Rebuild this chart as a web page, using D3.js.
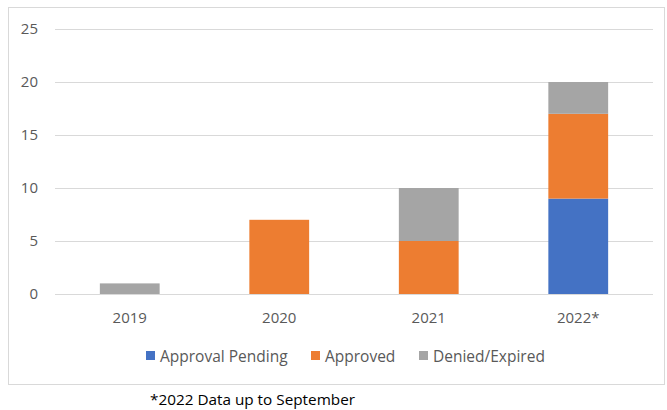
<!DOCTYPE html>
<html>
<head>
<meta charset="utf-8">
<script src="https://cdn.jsdelivr.net/npm/d3@7"></script>
<style>
  body { margin: 0; background: #fff; }
  text { font-family: "Open Sans", sans-serif; }
</style>
</head>
<body>
<svg id="chart" width="667" height="410"></svg>
<script>
const years = ['2019', '2020', '2021', '2022*'];
const seriesNames = ['Approval Pending', 'Approved', 'Denied/Expired'];
const pending = [0, 0, 0, 9];
const approved = [0, 7, 5, 8];
const denied = [1, 0, 5, 3];
const yTicks = [0, 5, 10, 15, 20, 25];
const colors = ['#4472C4', '#ED7D31', '#A5A5A5'];

const svg = d3.select('#chart');

// frame of the chart object
svg.append('rect')
  .attr('x', 8.5).attr('y', 7.5)
  .attr('width', 656).attr('height', 377)
  .attr('fill', '#fff')
  .attr('stroke', '#D9D9D9');

const margin = { top: 29, left: 55, right: 14, bottom: 116 };
const innerWidth = 667 - margin.left - margin.right;
const innerHeight = 410 - margin.top - margin.bottom;

const g = svg.append('g')
  .attr('transform', `translate(${margin.left}, ${margin.top})`);

const xScale = d3.scaleBand()
  .domain(years)
  .range([0, innerWidth])
  .paddingInner(0.6)
  .paddingOuter(0.3);

const yScale = d3.scaleLinear()
  .domain([0, 25])
  .range([innerHeight, 0]);

// gridlines
g.append('g').selectAll('line').data(yTicks)
  .enter().append('line')
  .attr('x1', 0).attr('x2', innerWidth)
  .attr('y1', d => Math.round(yScale(d)) + 0.5)
  .attr('y2', d => Math.round(yScale(d)) + 0.5)
  .attr('stroke', '#D9D9D9')
  .attr('stroke-width', 1);

const yAxis = g.append('g')
  .call(d3.axisLeft(yScale).tickValues(yTicks).tickSize(0).tickPadding(17));
yAxis.select('.domain').remove();
yAxis.selectAll('text')
  .attr('font-size', '15px')
  .attr('fill', '#595959')
  .style('font-family', '"Open Sans", sans-serif');

const xAxis = g.append('g')
  .attr('transform', `translate(0, ${innerHeight})`)
  .call(d3.axisBottom(xScale).tickSize(0).tickPadding(18));
xAxis.select('.domain').remove();
xAxis.selectAll('text')
  .attr('font-size', '15px')
  .attr('fill', '#595959')
  .style('font-family', '"Open Sans", sans-serif');

// stacked bars
const table = years.map((y, i) => ({
  year: y,
  'Approval Pending': pending[i],
  'Approved': approved[i],
  'Denied/Expired': denied[i]
}));
const stacked = d3.stack().keys(seriesNames)(table);

g.append('g').selectAll('g').data(stacked)
  .enter().append('g')
  .attr('fill', (d, i) => colors[i])
  .selectAll('rect').data(d => d)
  .enter().append('rect')
  .attr('x', d => xScale(d.data.year))
  .attr('y', d => yScale(d[1]))
  .attr('width', xScale.bandwidth())
  .attr('height', d => yScale(d[0]) - yScale(d[1]));

// legend
const legendX = [146, 311, 419];
const legend = svg.append('g').selectAll('g').data(seriesNames)
  .enter().append('g')
  .attr('transform', (d, i) => `translate(${legendX[i]}, 351)`);
legend.append('rect')
  .attr('width', 9).attr('height', 9)
  .attr('fill', (d, i) => colors[i]);
legend.append('text')
  .attr('x', 14).attr('y', 10.5)
  .attr('font-size', '15.5px')
  .attr('fill', '#595959')
  .text(d => d);

// footnote
svg.append('text')
  .attr('x', 150).attr('y', 405)
  .attr('font-size', '15.3px')
  .attr('fill', '#000')
  .text('*2022 Data up to September');
</script>
</body>
</html>
